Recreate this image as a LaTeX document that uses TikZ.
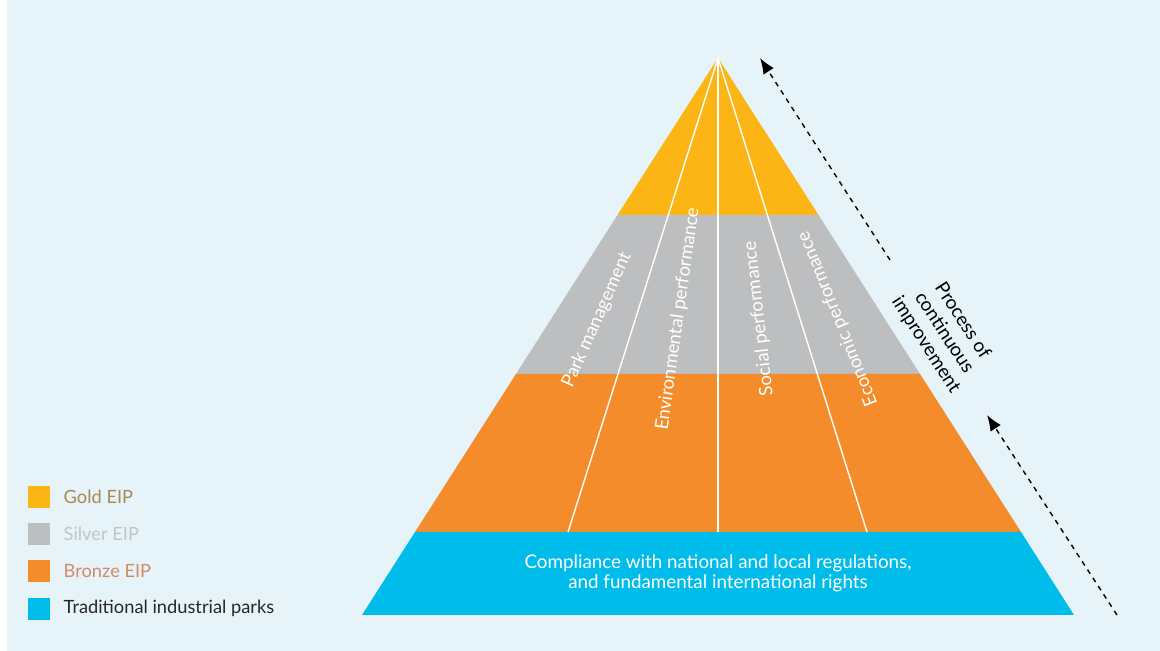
\documentclass[tikz,border=0pt]{standalone}
\usepackage{fontspec}
\setmainfont{Lato}
\usetikzlibrary{positioning,arrows.meta}
\definecolor{bgblue}{HTML}{E6F4FA}
\definecolor{goldfill}{HTML}{FBB615}
\definecolor{silverfill}{HTML}{BCBEC0}
\definecolor{bronzefill}{HTML}{F58C2B}
\definecolor{tradfill}{HTML}{00BCEB}
\definecolor{goldtext}{HTML}{A88A52}
\definecolor{silvertext}{HTML}{C3C4C7}
\definecolor{bronzetext}{HTML}{D4896A}
\tikzset{
  pillar/.style={text=white, inner sep=0pt, font=\fontsize{10.5}{12}\selectfont},
  legbox/.style={fill=#1, minimum size=0.44cm, inner sep=0pt},
  legtext/.style={text=#1, inner sep=0pt, anchor=west, font=\fontsize{10.4}{12}\selectfont},
  improve/.style={dash pattern=on 2.8pt off 2.8pt, line width=0.8pt, -{Latex[length=9pt,width=7pt]}}
}
\begin{document}
\begin{tikzpicture}[x=0.02cm, y=-0.02cm]
    \useasboundingbox (0, 0) rectangle (1160, 651);
        \fill[bgblue] (7, 0) rectangle (1160, 651);
        % pyramid bands
        \coordinate (apex) at (718, 58);
        \fill[goldfill] (apex) -- (818.5, 215) -- (617.5, 215) -- cycle;
        \fill[silverfill] (617.5, 215) -- (818.5, 215) -- (920, 374) -- (516, 374) -- cycle;
        \fill[bronzefill] (516, 374) -- (920, 374) -- (1021, 532) -- (415, 532) -- cycle;
        \fill[tradfill] (415, 532) -- (1021, 532) -- (1074, 615) -- (362, 615) -- cycle;
        \coordinate (footl) at (568, 532);
        \coordinate (footm) at (718, 532);
        \coordinate (footr) at (867, 532);
        \draw[white, line width=0.8pt] (apex) -- (footl);
        \draw[white, line width=0.8pt] (apex) -- (footm);
        \draw[white, line width=0.8pt] (apex) -- (footr);
        \node[pillar, rotate=66] (park) at (597, 320) {Park management};
        \node[pillar, rotate=82] (env) at (678, 319) {Environmental performance};
        \node[pillar, rotate=96.5] (social) at (759, 319) {Social performance};
        \node[pillar, rotate=112] (econ) at (838, 319) {Economic performance};
        \node[pillar, align=center, font=\fontsize{10.7}{11.6}\selectfont] (comply) at (718, 573)
            {Compliance with national and local regulations,\\and fundamental international rights};
        % process of continuous improvement
        \coordinate (uptip) at (760, 58);
        \coordinate (uptail) at (890, 260);
        \coordinate (lowtip) at (987, 415);
        \coordinate (lowtail) at (1117, 615);
        \draw[improve] (uptail) -- (uptip);
        \draw[improve] (lowtail) -- (lowtip);
        \node[rotate=-57, align=center, inner sep=0pt, font=\fontsize{10.8}{12.4}\selectfont] (process) at (944, 333)
            {Process of\\continuous\\improvement};
        % legend
        \node[legbox=goldfill] (gold) at (39, 497) {};
        \node[legbox=silverfill, below=0.29cm of gold] (silver) {};
        \node[legbox=bronzefill, below=0.29cm of silver] (bronze) {};
        \node[legbox=tradfill, below=0.29cm of bronze] (trad) {};
        \node[legtext=goldtext, right=0.26cm of gold] (goldlabel) {Gold EIP};
        \node[legtext=silvertext, right=0.26cm of silver] (silverlabel) {Silver EIP};
        \node[legtext=bronzetext, right=0.26cm of bronze] (bronzelabel) {Bronze EIP};
        \node[legtext=black!85, right=0.26cm of trad] (tradlabel) {Traditional industrial parks};
    \end{tikzpicture}
\end{document}
